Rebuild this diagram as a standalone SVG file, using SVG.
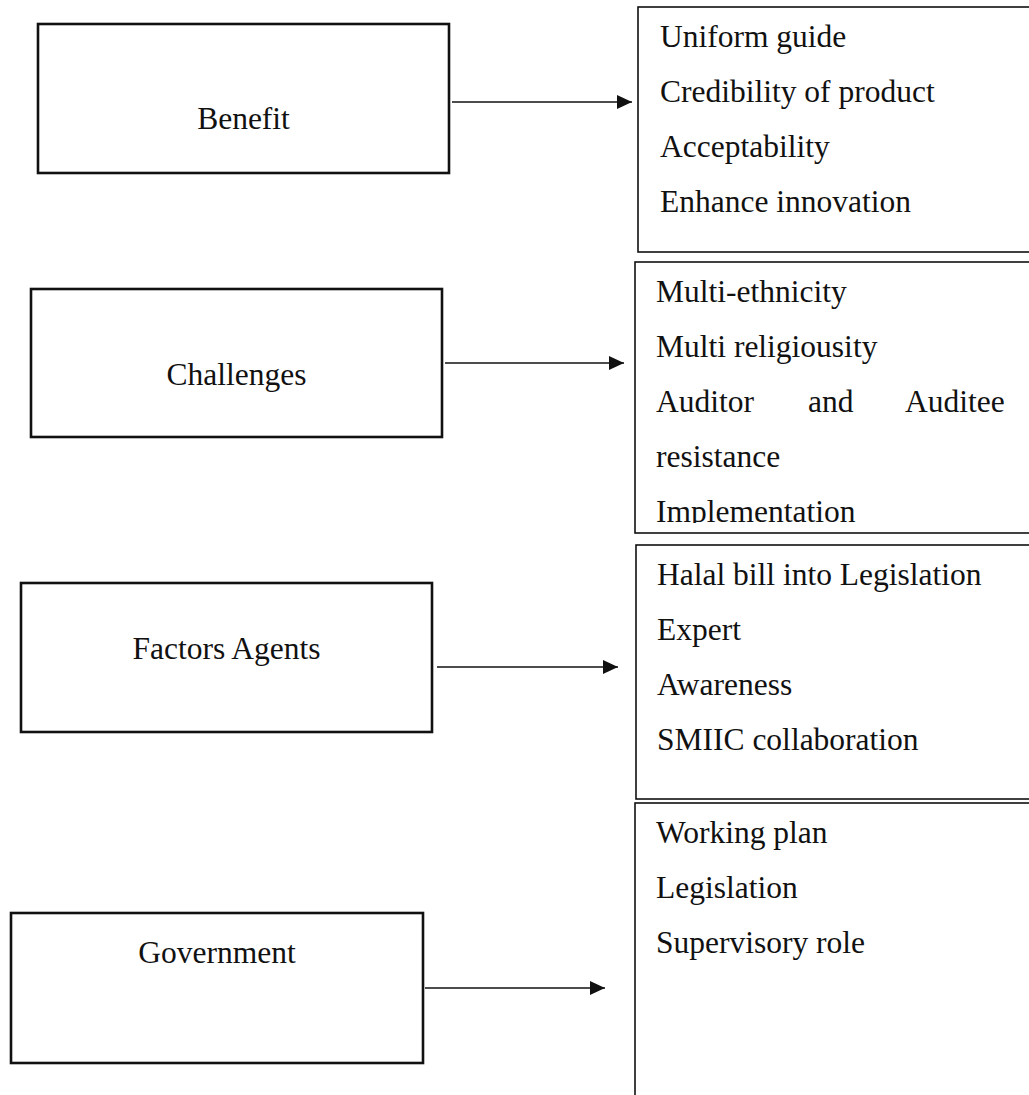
<svg xmlns="http://www.w3.org/2000/svg" width="1029" height="1095" viewBox="0 0 1029 1095">
<style>
text{font-family:"Liberation Serif","Times New Roman",serif;font-size:31.5px;fill:#111}
.lb{fill:#fff;stroke:#111;stroke-width:2.6}
.rb{fill:#fff;stroke:#111;stroke-width:1.6}
.c{text-anchor:middle}
.conn line{stroke:#111;stroke-width:1.3}
</style>
<defs>
<marker id="ah" markerUnits="userSpaceOnUse" markerWidth="16" markerHeight="14" refX="15" refY="7" orient="auto">
<path d="M0,0 L15,7 L0,14 Z" fill="#111"/>
</marker>
<clipPath id="clip2"><rect x="630" y="262" width="400" height="261"/></clipPath>
</defs>
<rect width="1029" height="1095" fill="#fff"/>
<g id="benefit"><rect class="lb" x="38" y="24" width="411" height="149"/><text class="c" x="243.5" y="129">Benefit</text></g>
<g id="challenges"><rect class="lb" x="31" y="289" width="411" height="148"/><text class="c" x="236.5" y="385">Challenges</text></g>
<g id="factors"><rect class="lb" x="21" y="583" width="411" height="149"/><text class="c" x="226.5" y="659">Factors Agents</text></g>
<g id="government"><rect class="lb" x="11" y="913" width="412" height="150"/><text class="c" x="217" y="963">Government</text></g>
<g id="benefit-list"><rect class="rb" x="638" y="7" width="400" height="245"/>
<text x="660" y="47">Uniform guide</text><text x="660" y="102">Credibility of product</text><text x="660" y="157">Acceptability</text><text x="660" y="212">Enhance innovation</text></g>
<g id="challenges-list"><rect class="rb" x="635" y="262" width="400" height="271"/>
<g clip-path="url(#clip2)"><text x="656" y="302">Multi-ethnicity</text><text x="656" y="357">Multi religiousity</text><text x="656" y="412">Auditor</text><text x="808" y="412">and</text><text x="905" y="412">Auditee</text><text x="656" y="467">resistance</text><text x="656" y="522">Implementation</text></g></g>
<g id="factors-list"><rect class="rb" x="636" y="545" width="400" height="254"/>
<text x="657" y="585">Halal bill into Legislation</text><text x="657" y="640">Expert</text><text x="657" y="695">Awareness</text><text x="657" y="750">SMIIC collaboration</text></g>
<g id="government-list"><rect class="rb" x="635" y="803" width="400" height="300"/>
<text x="656" y="843">Working plan</text><text x="656" y="898">Legislation</text><text x="656" y="953">Supervisory role</text></g>
<g id="connectors" class="conn">
<line x1="452" y1="102" x2="632" y2="102" marker-end="url(#ah)"/>
<line x1="445" y1="363" x2="624" y2="363" marker-end="url(#ah)"/>
<line x1="437" y1="667" x2="618" y2="667" marker-end="url(#ah)"/>
<line x1="425" y1="988" x2="605" y2="988" marker-end="url(#ah)"/>
</g>
</svg>
